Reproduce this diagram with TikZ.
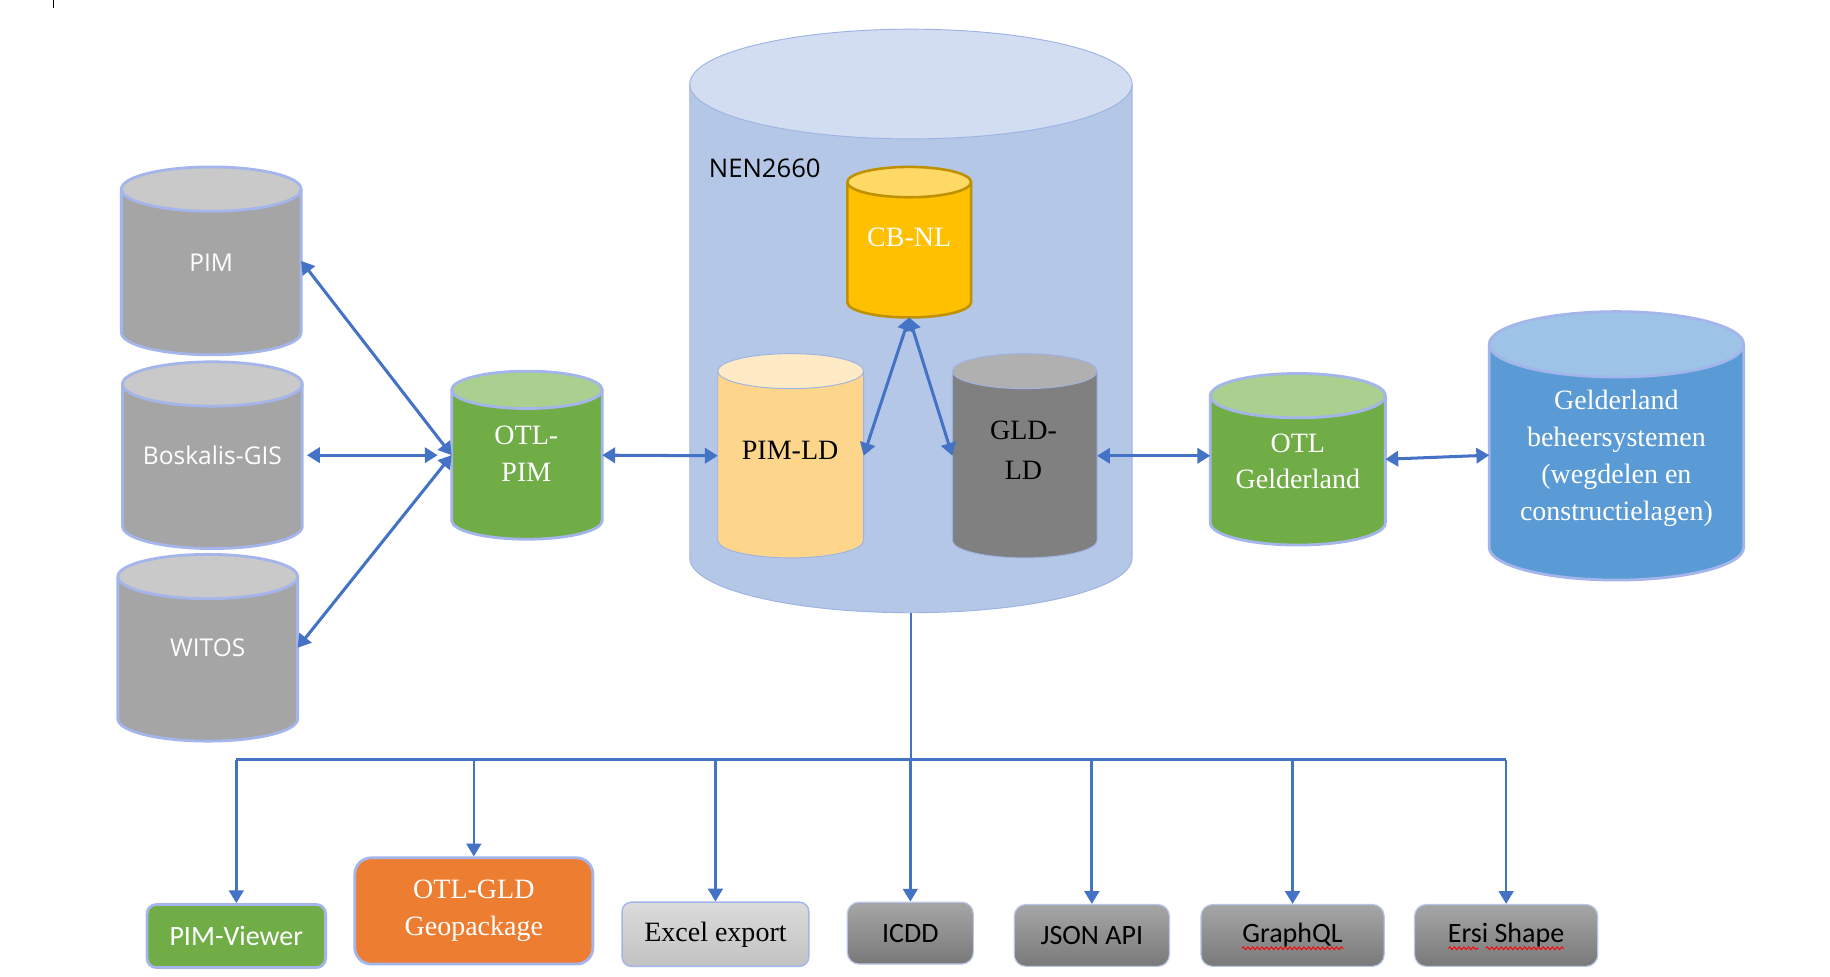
\documentclass[tikz,border=0pt]{standalone}
\usepackage{fontspec}
\setmainfont{Liberation Serif}
\newfontfamily\segoefont{Open Sans}
\newfontfamily\califont{Carlito}
\usetikzlibrary{arrows.meta,decorations.pathmorphing}

\definecolor{abl}{HTML}{4472C4}
\definecolor{gbody}{HTML}{A5A5A5}
\definecolor{gtop}{HTML}{C9C9C9}
\definecolor{rim}{HTML}{A3B5EA}
\definecolor{grbody}{HTML}{70AD47}
\definecolor{grtop}{HTML}{A9D08E}
\definecolor{nenbody}{HTML}{B4C7E7}
\definecolor{nentop}{HTML}{D2DDF1}
\definecolor{nenrim}{HTML}{9DB3E4}
\definecolor{cbbody}{HTML}{FFC000}
\definecolor{cbtop}{HTML}{FFD966}
\definecolor{cbrim}{HTML}{BF9000}
\definecolor{plbody}{HTML}{FED68B}
\definecolor{pltop}{HTML}{FFEAC6}
\definecolor{glbody}{HTML}{808080}
\definecolor{gltop}{HTML}{B0B0B0}
\definecolor{blbody}{HTML}{5B9BD5}
\definecolor{bltop}{HTML}{9DC3E6}
\definecolor{orbody}{HTML}{ED7D31}
\definecolor{boxrim}{HTML}{B9C6EA}

\newcommand\dbcyl[9]{%
  \pgfmathsetmacro\cylcx{(#2+#3)/2}%
  \pgfmathsetmacro\cylrx{(#3-#2)/2}%
  \fill[#7] (#2,{-(#4+#6)}) -- (#2,{-(#5-#6)}) arc[start angle=180,end angle=360,x radius=\cylrx,y radius=#6] -- (#3,{-(#4+#6)}) -- cycle;
  \fill[#8] (\cylcx,{-(#4+#6)}) ellipse[x radius=\cylrx,y radius=#6];
  \draw[#9] (#2,{-(#4+#6)}) -- (#2,{-(#5-#6)}) arc[start angle=180,end angle=360,x radius=\cylrx,y radius=#6] -- (#3,{-(#4+#6)});
  \draw[#9] (\cylcx,{-(#4+#6)}) ellipse[x radius=\cylrx,y radius=#6];
  \node[inner sep=0pt,outer sep=0pt,minimum width={(#3-#2)*0.5pt},minimum height={(#5-#4)*0.5pt}] (#1) at (\cylcx,{-(#4+#5)/2}) {};
}

\begin{document}
\begin{tikzpicture}[x=0.5pt,y=0.5pt,
  rimline/.style={draw=rim,line width=1.2pt,line join=round},
  thinrim/.style={draw=nenrim,line width=0.4pt},
  goldrim/.style={draw=cbrim,line width=1.1pt},
  conn/.style={draw=abl,line width=1.3pt,{Triangle[length=5.5pt,width=6.5pt]}-{Triangle[length=5.5pt,width=6.5pt]}},
  feed/.style={draw=abl,line width=1.15pt,-{Triangle[length=5.5pt,width=6.3pt]}},
  trunk/.style={draw=abl,line width=1.15pt},
  sertxt/.style={font=\fontsize{12}{16}\selectfont,align=center,inner sep=0pt},
  sanstxt/.style={font=\segoefont\fontsize{10.5}{13}\selectfont,text=white,inner sep=0pt},
  calitxt/.style={font=\califont\fontsize{12}{14}\selectfont},
  outbox/.style={rounded corners=4pt,inner sep=0pt,align=center},
  darkbox/.style={outbox,calitxt,draw=boxrim,line width=0.5pt,top color=gray!70,bottom color=gray!95!black!100,rounded corners=5pt},
  squig/.style={draw=red,line width=0.4pt,decorate,decoration={snake,amplitude=0.6pt,segment length=2pt}}
]
\useasboundingbox (0,0) rectangle (1568,-837);
\draw[line width=0.5pt] (46,0) -- (46,-7);

% big NEN2660 cylinder
\dbcyl{nen}{591}{970}{25}{525}{47}{nenbody}{nentop}{thinrim}
\node[anchor=west,font=\segoefont\fontsize{11}{13}\selectfont,inner sep=0pt] (nenT) at (607,-144) {NEN2660};

% inner cylinders
\dbcyl{cbnl}{726}{832}{143}{272}{13}{cbbody}{cbtop}{goldrim}
\node[sertxt,text=white] (cbnlT) at (779,-203) {CB-NL};
\dbcyl{pimld}{615}{740}{303}{478}{15}{plbody}{pltop}{thinrim}
\node[sertxt] (pimldT) at (677,-386) {PIM-LD};
\dbcyl{gldld}{816}{940}{303}{478}{15}{glbody}{gltop}{thinrim}
\node[sertxt,font=\fontsize{12}{17}\selectfont] (gldldT) at (877,-385.5) {GLD-\\LD};

% left sources
\dbcyl{pim}{104}{258}{143}{304}{19}{gbody}{gtop}{rimline}
\node[sanstxt] (pimT) at (181,-225) {PIM};
\dbcyl{bosk}{105}{259}{310}{470}{19}{gbody}{gtop}{rimline}
\node[sanstxt] (boskT) at (182,-390) {Boskalis-GIS};
\dbcyl{witos}{101}{255}{475}{635}{19}{gbody}{gtop}{rimline}
\node[sanstxt] (witosT) at (178,-555) {WITOS};

\dbcyl{otlpim}{387}{516}{318}{462}{16}{grbody}{grtop}{rimline}
\node[sertxt,text=white] (otlpimT) at (451,-389) {OTL-\\PIM};

% right
\dbcyl{otlg}{1037}{1187}{320}{467}{19}{grbody}{grtop}{rimline}
\node[sertxt,text=white,font=\fontsize{12}{15.5}\selectfont] (otlgT) at (1112,-395.5) {OTL\\Gelderland};
\dbcyl{gelder}{1276}{1494}{267}{497}{28}{blbody}{bltop}{rimline}
\node[sertxt,text=white,font=\fontsize{12}{15.8}\selectfont] (gelderT) at (1385,-392.5) {Gelderland\\beheersystemen\\(wegdelen en\\constructielagen)};

% connectors
\draw[conn] (pim.east) -- (otlpim.west);
\draw[conn,shorten <=2pt,shorten >=6pt] (bosk.east) -- (otlpim.west);
\draw[conn] (witos.east) -- (otlpim.west);
\draw[conn] (otlpim.east) -- (pimld.west);
\draw[conn] (cbnl.south) -- (pimld.east);
\draw[conn] (cbnl.south) -- (gldld.west);
\draw[conn] (gldld.east) -- (otlg.west |- gldld.east);
\draw[conn] (otlg.east) -- ([yshift=-4pt]gelder.west);

% output boxes
\node[outbox,calitxt,fill=grbody,text=white,draw=rim,line width=1.2pt,minimum width=76.5pt,minimum height=27pt] (pimv) at (202.5,-802) {PIM-Viewer};
\node[outbox,fill=orbody,text=white,draw=rim,line width=1.2pt,rounded corners=7pt,minimum width=102pt,minimum height=45.5pt,font=\fontsize{12}{16}\selectfont] (otlgld) at (406,-780.5) {OTL-GLD\\Geopackage};
\node[outbox,top color=gray!28,bottom color=gray!48,draw=rim,line width=0.6pt,minimum width=80pt,minimum height=27.5pt,font=\fontsize{12}{14}\selectfont] (excel) at (613,-800.5) {Excel export};
\node[darkbox,minimum width=54pt,minimum height=26.5pt] (icdd) at (780,-799.5) {ICDD};
\node[darkbox,minimum width=66.5pt,minimum height=26.5pt] (json) at (935.5,-801.5) {JSON API};
\node[darkbox,minimum width=78.5pt,minimum height=26.5pt] (gql) at (1107.5,-801.5) {GraphQL};
\node[darkbox,minimum width=78.5pt,minimum height=26.5pt] (ersi) at (1290.5,-801.5) {Ersi Shape};

\draw[squig] ([xshift=-21.75pt,yshift=-5.5pt]gql.center) -- ++(43.5pt,0);
\draw[squig] ([xshift=-24.75pt,yshift=-5.5pt]ersi.center) -- ++(13pt,0);
\draw[squig] ([xshift=-8.75pt,yshift=-5.5pt]ersi.center) -- ++(33.5pt,0);

% distribution tree
\coordinate (hub) at (nen.south |- 0,-651);
\draw[trunk] (nen.south) -- (hub);
\draw[trunk] (pimv.north |- hub) -- (ersi.north |- hub);
\foreach \b in {pimv,otlgld,excel,icdd,json,gql,ersi}
  \draw[feed] (\b.north |- hub) -- (\b.north);
\end{tikzpicture}
\end{document}
